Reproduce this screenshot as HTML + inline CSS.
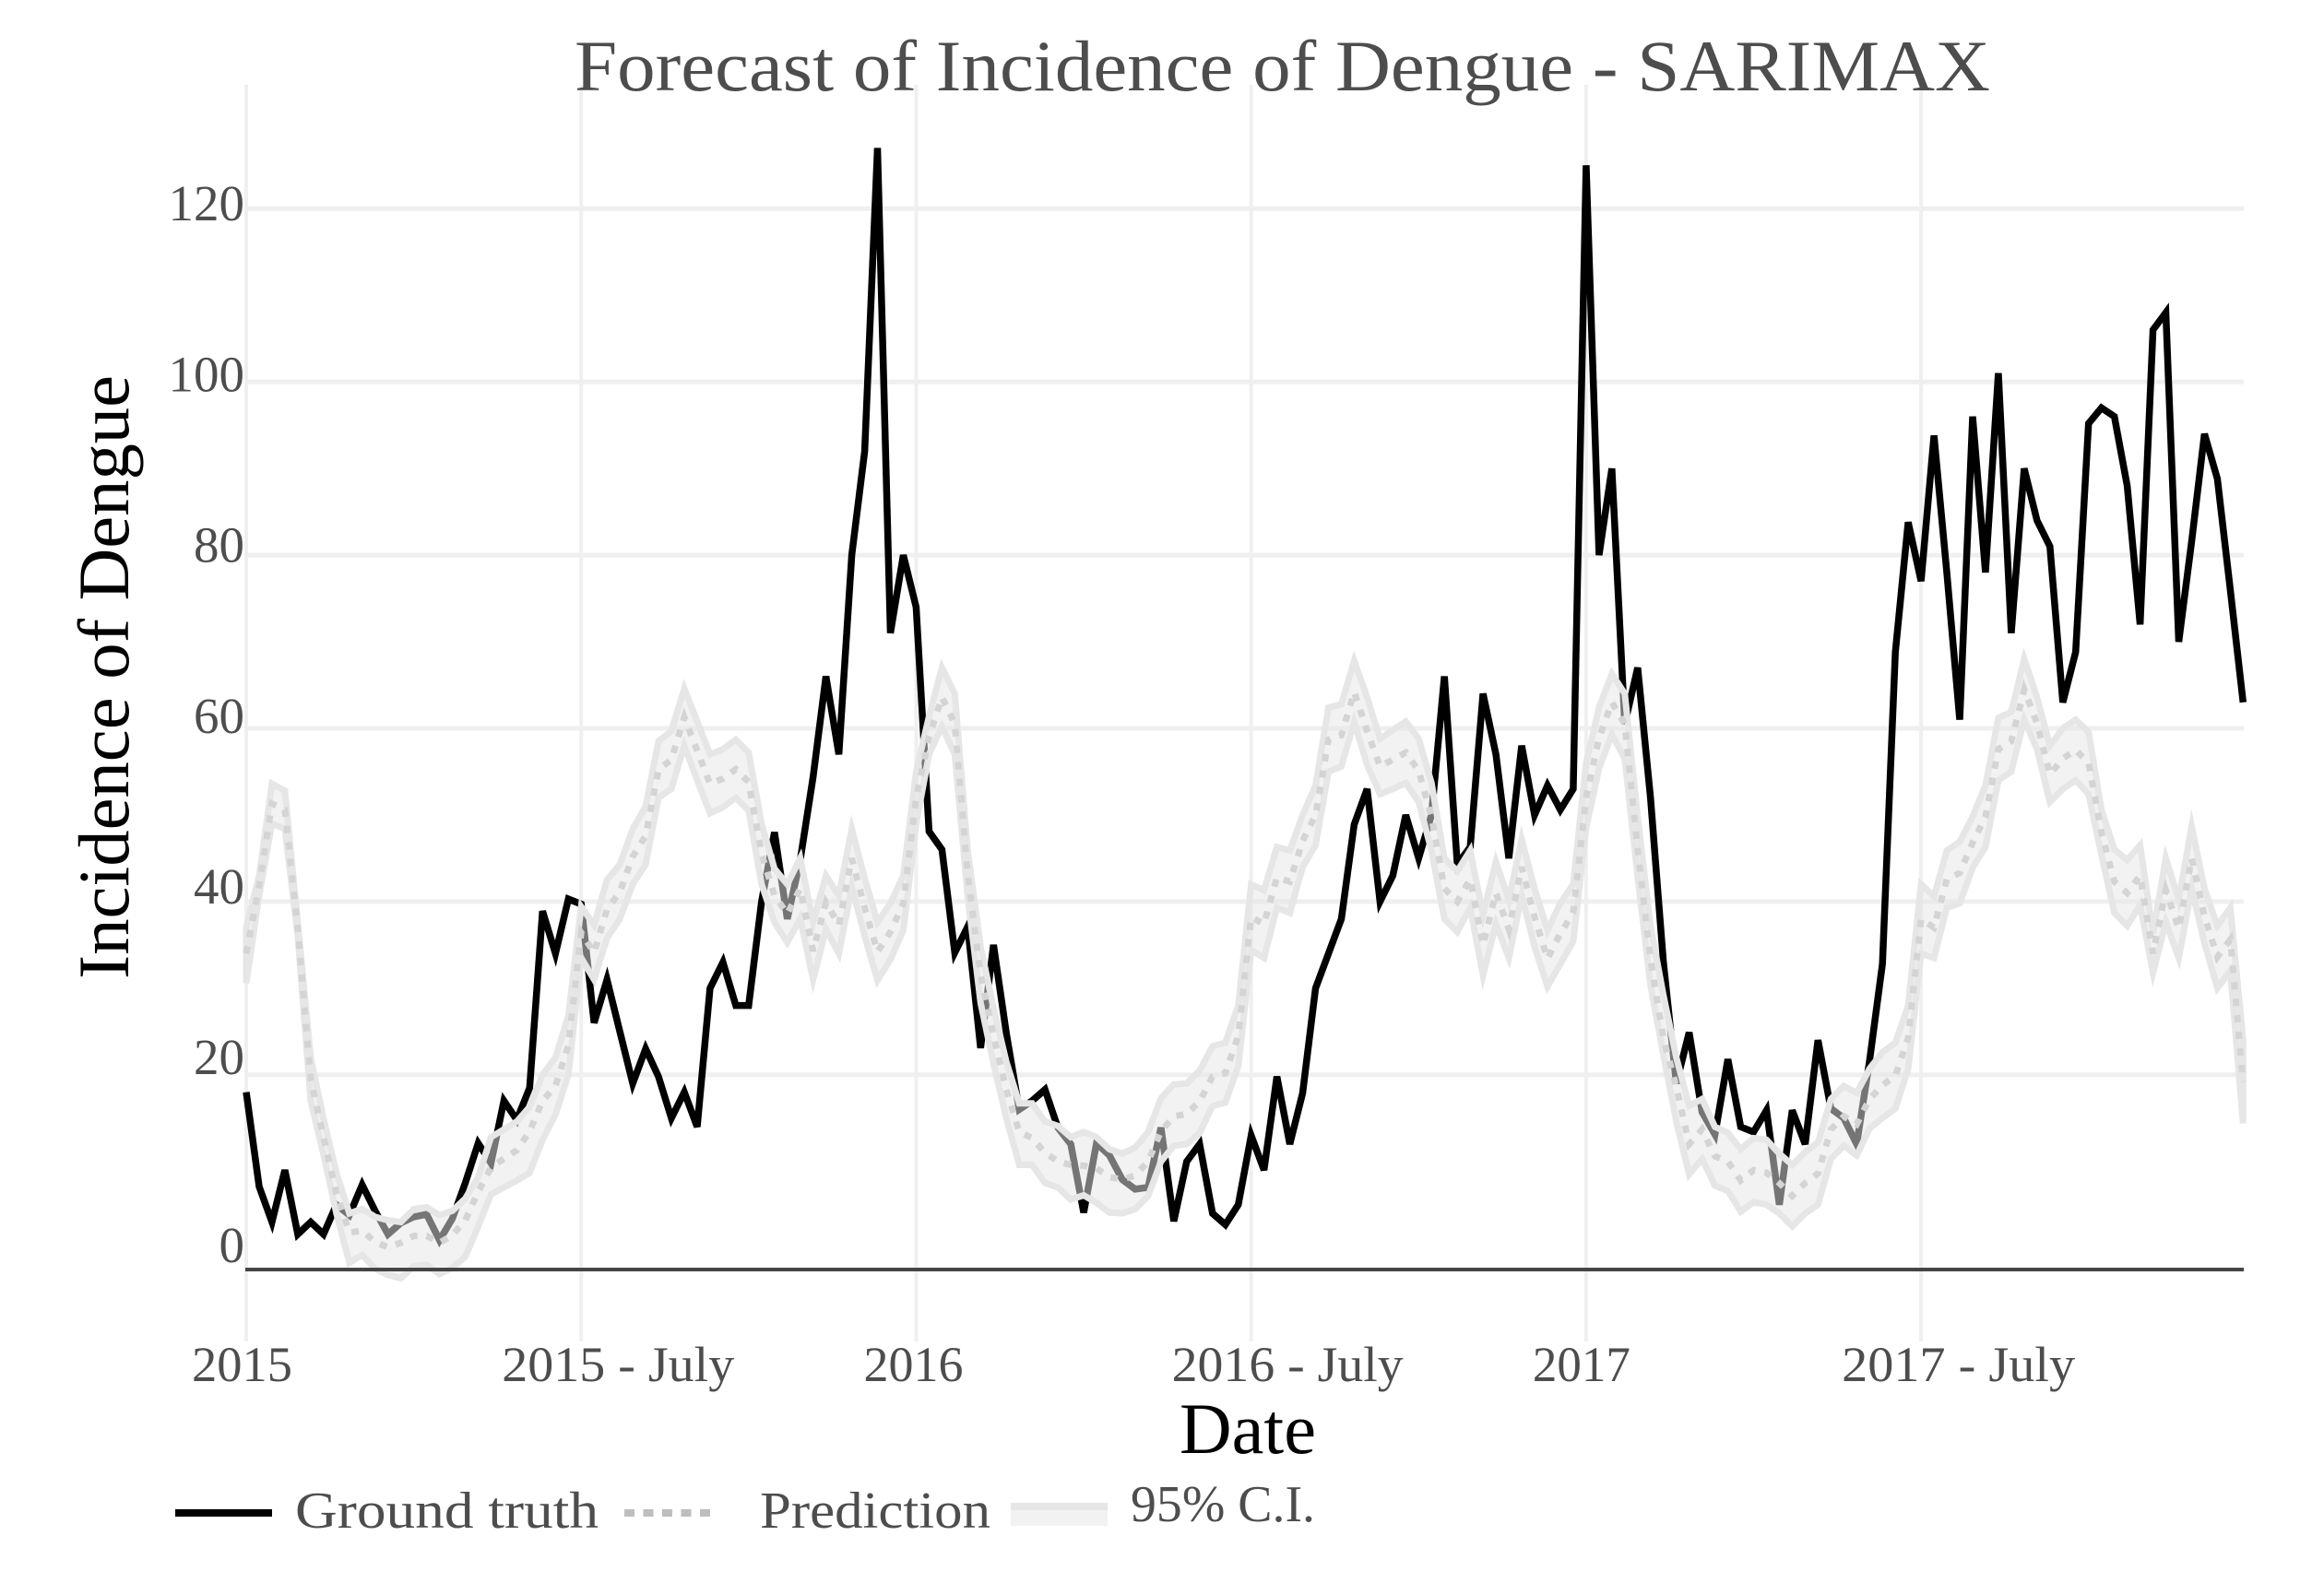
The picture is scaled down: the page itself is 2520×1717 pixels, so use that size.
<!DOCTYPE html>
<html lang="en">
<head>
<meta charset="utf-8">
<title>Forecast of Incidence of Dengue - SARIMAX</title>
<style>
html,body{margin:0;padding:0;background:#fff;}
svg{display:block;}
text{font-family:"Liberation Serif",serif;}
</style>
</head>
<body>
<svg id="chart" xmlns="http://www.w3.org/2000/svg" width="2520" height="1717" viewBox="0 0 2520 1717">
<rect width="2520" height="1717" fill="#fff"/>
<g id="grid"></g>
<path id="truth" fill="none" stroke="#000" stroke-width="7.5" stroke-linejoin="miter" stroke-miterlimit="4"/>
<path id="ribbon" fill="#e5e5e5" fill-opacity="0.51" stroke="#e6e6e6" stroke-width="7" stroke-linejoin="miter" stroke-miterlimit="6"/>
<path id="pred" fill="none" stroke="#d4d4d4" stroke-width="7" stroke-dasharray="8 10"/>
<line id="axis" x1="266" x2="2433" y1="1377" y2="1377" stroke="#454545" stroke-width="4"/>
<g id="ylabels"></g>
<g id="xlabels"></g>
<text x="623" y="98" font-size="78" fill="#4d4d4d" textLength="1535" lengthAdjust="spacingAndGlyphs">Forecast of Incidence of Dengue - SARIMAX</text>
<text x="1279" y="1576" font-size="78" fill="#000" textLength="148" lengthAdjust="spacingAndGlyphs">Date</text>
<text transform="translate(139,1062) rotate(-90)" font-size="78" fill="#000" textLength="655" lengthAdjust="spacingAndGlyphs">Incidence of Dengue</text>
<g>
<line x1="190" x2="295" y1="1641" y2="1641" stroke="#000" stroke-width="8"/>
<text x="320" y="1657" font-size="56" fill="#4d4d4d" textLength="329" lengthAdjust="spacingAndGlyphs">Ground truth</text>
<line x1="677" x2="770" y1="1641" y2="1641" stroke="#bebebe" stroke-width="8" stroke-dasharray="11 9.5"/>
<text x="824" y="1657" font-size="56" fill="#4d4d4d" textLength="250" lengthAdjust="spacingAndGlyphs">Prediction</text>
<rect x="1096" y="1630" width="105" height="25" fill="#f2f2f2"/>
<rect x="1096" y="1630" width="105" height="8" fill="#e6e6e6"/>
<text x="1226" y="1650" font-size="56" fill="#4d4d4d" textLength="200" lengthAdjust="spacingAndGlyphs">95% C.I.</text>
</g>
</svg>
<script>
const truthValues = [
18,7.1,3,9,1.6,3,1.6,5,3.8,7.3,4.3,1.6,2.9,
3.6,3.9,0.9,3.4,7.5,12.1,9.8,17,14.8,18.5,38.9,34,40.3,
39.7,26,31,25,19,23,19.8,15,18,14,30,33,28,
28,40,48,38,44.8,54.4,66,57,80,92,127,71,80,
74,48.1,46,34.1,37.1,23.1,35,24.8,16,17,18.3,13.9,12,
4.1,12.1,10.7,7.9,6.8,7,13.9,3.1,10,12,4,2.7,5,
13,9,19.8,12,17.9,30,34,38,48.9,53,40,43,50,
45,50,66,44.3,46.3,64,57,45,58,50,53.4,50.6,53,
125,80,90,60.5,67,52,33,19,24.9,15.7,13.1,21.8,14,
13.4,15.9,5,15.9,12,24,16.1,15,12,21.6,32.8,68.8,83.8,
77,93.8,78,61,96,78,101,71,90,84,81,63,68.8,
95.2,97,96,88,72,106,108,70,81.6,94,88.8,76,63
];
const upperValues = [
37,43,53.6,52.8,37.6,22,14.9,8.7,4,4.5,3.6,3.2,3,
4.5,4.7,3.8,4.3,5.7,8.2,12.8,13.7,14.6,16.3,20,22,26.8,
39.4,37.3,42.5,44.3,48.4,51,58.5,59.7,64.6,60.8,57,57.6,58.7,
57.2,49,43.8,42,45,37.6,43,40.7,48.4,42.7,37.6,39.8,43,
55,61.4,67,64,45.9,34.8,27.7,21.5,16.7,16.7,14.6,14.1,12.8,
13.4,12.8,11.4,10.9,11.6,13.4,17.3,18.9,19,20.5,23.3,23.7,28,
42,41.3,46.3,45.9,50,53.4,62.4,62.8,67.8,63.6,58.8,59.8,60.8,
58.8,53.7,45,43.5,45.9,38.5,44.6,40.2,47.2,41.5,36.7,39.8,42,
56,62.4,66.3,64,49.8,37.2,29.2,22,16.4,17.2,14,13.3,11.4,
12.7,12.5,10.9,9.6,11.1,12.2,17.2,18.7,17.9,20.7,22.6,23.7,28,
42,40.6,45.9,46.9,49.8,53.4,61.2,61.9,68,63.6,58,60,61,
59.6,50.6,46,44.8,46.5,36.3,45,40.2,48.7,41.5,37.2,39.3,24
];
const lowerValues = [
30.6,40.7,49,48.4,36,17,10.8,4,-1.7,-0.8,-2.4,-3.1,-3.5,
-2.1,-1.9,-3,-2.3,-1,2.5,6.2,7,7.8,8.7,12.5,15.4,20,
33.5,31,35.8,38,42,44.3,52,53,58,54,50.2,50.9,52,
50.5,42,37.6,35.3,38,31,36.8,34,41.7,36,30.9,33.3,36.7,
49,57,60.2,57,40.6,28.3,21.3,15,9.6,9.6,7.5,7,5.6,
6.1,5.2,4.1,4,4.5,6,10,11.8,12,13.3,16.4,16.8,21,
34.4,33.5,39.3,38.7,44,46.5,55,55.6,60.7,55.8,52.4,53,53.7,
51.5,45.9,38,36.5,39.3,31.5,37.4,33.5,40.7,34.8,30.2,32.8,35.4,
48.5,55.4,59.3,56.5,42.9,30.3,22.3,14.6,8.5,10.3,7.2,6.6,4.2,
5.3,5,4,2.5,4,5,10.3,11.8,10.7,13.8,15,16.1,20.7,
34,33.5,39.3,39.8,43.9,46.3,54,55,61,57.6,51.5,53,54,
52.4,45.4,38.7,37.2,39.6,31.8,37.6,33.5,41.5,35.2,30,32,14.4
];
const predictionValues = [
34,41.8,51.3,50.6,36.8,19.5,12.8,6.3,1.8,2,0.7,0.1,0.6,
1.4,1.4,0.6,1.5,3.2,6.5,9.3,10.3,11.3,13.5,17,18.7,23.4,
36.4,34.1,39.1,41.1,45.2,47.6,55.2,56.4,61.3,57.4,53.6,54.2,55.3,
53.8,45.5,40.7,38.6,41.5,34.3,39.9,37.3,45,39.3,34.2,36.5,39.8,
52,59,63.6,60.5,43.2,31.5,24.5,18.3,13.4,12.7,11,10,9.6,
9.5,9.2,8.2,7.9,8.4,10,13.5,15.2,15.5,16.9,19.8,20.2,24.5,
38.2,37.4,42.8,42.3,47,50,58.7,59.2,64.2,59.7,55.6,56.4,57.2,
55.1,49.8,41.5,40,42.6,35,41,36.8,44,38.2,33.4,36.3,38.7,
52,58.9,63,60.5,46,33.3,24.2,18.6,12,13.7,10.6,10,7.8,
9,8.7,7.5,6,7.5,8.6,13.7,15.2,14.3,17.2,18.8,19.9,24.3,
38,37,42.6,43.3,46.8,49.8,57.6,58.5,64.5,60.6,54.7,56.5,57.5,
56,48,42.3,41,43,34,41.3,36.9,45,38.3,33.6,35.6,19.2
];
const yTicks = [0,20,40,60,80,100,120];
const xTickWeeks = [0,26,52,78,104,130];
const xTickLabels = ["2015","2015 - July","2016","2016 - July","2017","2017 - July"];
const xTickWidths = [109,252,108,251,106,253];
const xTickOffsets = [-59,-86,-57,-86,-58,-86];

const NS = "http://www.w3.org/2000/svg";
function xScale(week){ return 267 + week * 13.97; }
function yScale(v){ return 1353.7 - v * 9.395; }
function yLabelBase(v){ return v === 0 ? 1369 : 1350.4 - v * 9.26; }
function linePath(vals){
  return vals.map((v,i)=>(i?"L":"M")+xScale(i).toFixed(1)+" "+yScale(v).toFixed(1)).join("");
}

const grid = document.getElementById("grid");
yTicks.forEach(function(t){
  if(t === 0) return;
  const l = document.createElementNS(NS,"line");
  
  
  l.setAttribute("x1",266); l.setAttribute("x2",2433);
  l.setAttribute("y1",yScale(t)); l.setAttribute("y2",yScale(t));
  l.setAttribute("stroke","#efefef"); l.setAttribute("stroke-width",5);
  grid.appendChild(l);
});
xTickWeeks.forEach(function(w){
  const l = document.createElementNS(NS,"line");
  
  
  l.setAttribute("x1",xScale(w)); l.setAttribute("x2",xScale(w));
  l.setAttribute("y1",92); l.setAttribute("y2",1455);
  l.setAttribute("stroke","#efefef"); l.setAttribute("stroke-width",4);
  grid.appendChild(l);
});

document.getElementById("truth").setAttribute("d",linePath(truthValues));
document.getElementById("pred").setAttribute("d",linePath(predictionValues));
const upperPath = linePath(upperValues);
let lowerPath = "";
for(let i=lowerValues.length-1;i>=0;i--){
  lowerPath += "L"+xScale(i).toFixed(1)+" "+yScale(lowerValues[i]).toFixed(1);
}
document.getElementById("ribbon").setAttribute("d",upperPath+lowerPath+"Z");

const yGroup = document.getElementById("ylabels");
yTicks.forEach(function(t){
  const s = document.createElementNS(NS,"text");
  
  
  s.setAttribute("x",265);
  s.setAttribute("y",yLabelBase(t));
  s.setAttribute("text-anchor","end");
  s.setAttribute("font-size",55);
  s.setAttribute("fill","#4d4d4d");
  s.textContent = String(t);
  yGroup.appendChild(s);
});

const xGroup = document.getElementById("xlabels");
xTickWeeks.forEach(function(w,i){
  const s = document.createElementNS(NS,"text");
  
  
  s.setAttribute("x",xScale(w)+xTickOffsets[i]);
  s.setAttribute("y",1498);
  s.setAttribute("font-size",54);
  s.setAttribute("fill","#4d4d4d");
  s.setAttribute("textLength",xTickWidths[i]);
  s.setAttribute("lengthAdjust","spacingAndGlyphs");
  s.textContent = xTickLabels[i];
  xGroup.appendChild(s);
});
</script>
</body>
</html>
